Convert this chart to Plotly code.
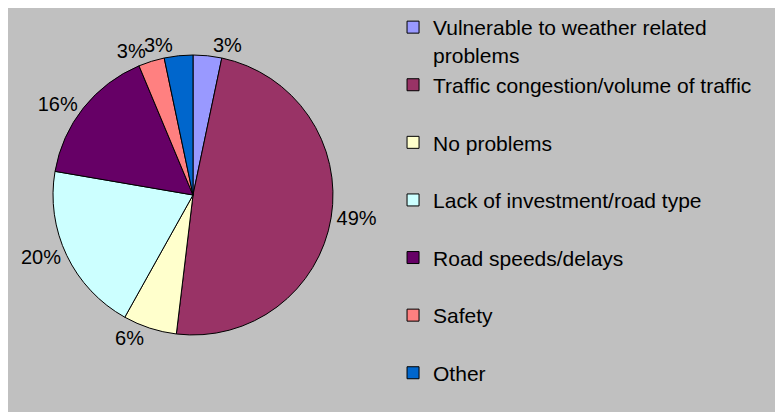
import plotly.graph_objects as go

categories = [
    "Vulnerable to weather related problems",
    "Traffic congestion/volume of traffic",
    "No problems",
    "Lack of investment/road type",
    "Road speeds/delays",
    "Safety",
    "Other",
]
shares = [3.3, 48.6, 6.2, 19.6, 16.0, 3.0, 3.3]
colors = ["#9999FF", "#993366", "#FFFFCC", "#CCFFFF", "#660066", "#FF8080", "#0066CC"]

# legend display labels (wrap first, pad the rest to mimic Excel spacing)
legend_labels = []
for i, c in enumerate(categories):
    if i == 0:
        legend_labels.append("Vulnerable to weather related<br>problems")
    elif i == len(categories) - 1:
        legend_labels.append(c)
    else:
        legend_labels.append(c + "<br> ")

FONT = "Arial, 'Liberation Sans', sans-serif"
DOMAIN = dict(x=[0.0587, 0.4237], y=[0.1906, 0.8837])
n = len(categories)

# main pie: all labels except the last slice (drawn by an overlay so that
# plotly does not push it away from its neighbour)
pos_main = ["outside"] * (n - 1) + ["none"]
pos_overlay = ["none"] * (n - 1) + ["outside"]

fig = go.Figure()
fig.add_trace(go.Pie(
    labels=legend_labels,
    values=shares,
    sort=False,
    direction="clockwise",
    rotation=0,
    marker=dict(colors=colors, line=dict(color="black", width=1)),
    textposition=pos_main,
    texttemplate="%{percent:.0%}",
    textfont=dict(family=FONT, size=20, color="black"),
    hoverinfo="none",
    domain=DOMAIN,
))
fig.add_trace(go.Pie(
    labels=legend_labels,
    values=shares,
    sort=False,
    direction="clockwise",
    rotation=0,
    marker=dict(colors=["rgba(0,0,0,0)"] * n, line=dict(width=0)),
    textposition=pos_overlay,
    texttemplate="%{percent:.0%}",
    textfont=dict(family=FONT, size=20, color="black"),
    hoverinfo="none",
    showlegend=False,
    domain=DOMAIN,
))

fig.update_layout(
    width=783, height=413,
    margin=dict(l=0, r=16, t=0, b=9, autoexpand=False),
    paper_bgcolor="white",
    font=dict(family=FONT, size=21, color="black"),
    shapes=[dict(type="rect", xref="paper", yref="paper", x0=0, x1=1, y0=0, y1=1,
                 fillcolor="#C0C0C0", line=dict(width=0), layer="below")],
    legend=dict(
        x=0.502, y=1.0025, xanchor="left", yanchor="top",
        valign="top", bgcolor="rgba(0,0,0,0)", borderwidth=0,
        font=dict(family=FONT, size=21, color="black"),
        maxheight=1000,
    ),
    showlegend=True,
)

fig.write_html("out.html")
